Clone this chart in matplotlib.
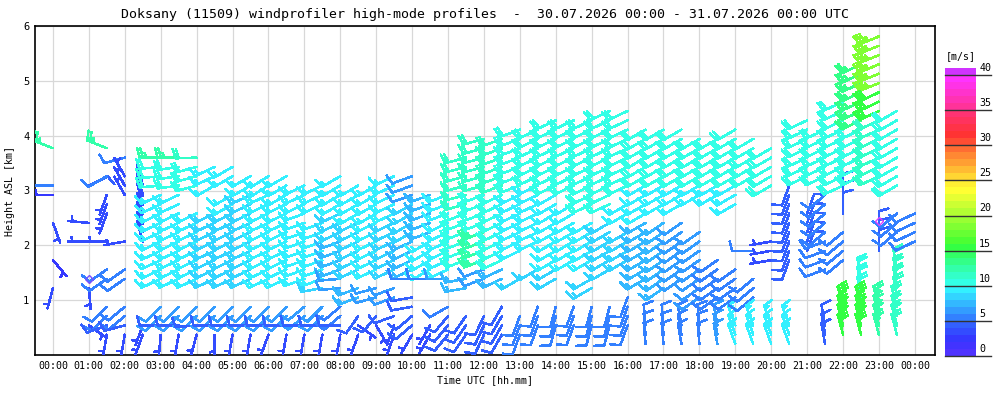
import numpy as np
import matplotlib
matplotlib.use("Agg")
import matplotlib.pyplot as plt
from matplotlib.colors import ListedColormap, BoundaryNorm

# ---------------- CONFIG ----------------
OUT_NAME = "out.png"
MONO = "DejaVu Sans Mono"
TITLE = ("Doksany (11509) windprofiler high-mode profiles  -  "
         "30.07.2026 00:00 - 31.07.2026 00:00 UTC")
# ----------------------------------------

# range gates of the high mode [km]
GATES = [0.20, 0.37, 0.54, 0.71, 0.88, 1.05, 1.22, 1.39, 1.56, 1.73, 1.90,
         2.07, 2.24, 2.41, 2.58, 2.75, 2.92, 3.09, 3.26, 3.43, 3.60, 3.77,
         3.94, 4.11, 4.28, 4.45, 4.62, 4.79, 4.96, 5.13, 5.30, 5.47, 5.64, 5.81]

# profile layers: (h_from, h_to, dir [deg], speed [m/s])
P0000 = [(3.77, 3.77, 292, 12), (3.09, 3.09, 270, 5), (2.92, 2.92, 270, 2),
         (2.41, 2.41, 160, 3), (1.73, 1.73, 140, 2), (1.22, 1.22, 195, 3)]
P0030 = []
P0100 = [(3.09, 3.09, 65, 4), (2.41, 2.41, 275, 3), (2.07, 2.07, 270, 3),
         (1.22, 1.22, 175, 3), (0.54, 0.54, 125, 3)]
P0130 = [(3.77, 3.77, 292, 12), (3.26, 3.26, 240, 5), (2.58, 2.92, 200, 3),
         (2.07, 2.07, 270, 3), (1.39, 1.56, 235, 5), (0.71, 0.88, 225, 5),
         (0.54, 0.54, 250, 4), (0.37, 0.37, 190, 3)]
P0200 = [(3.60, 3.60, 255, 5), (2.92, 3.26, 330, 3), (2.07, 2.07, 260, 3),
         (1.39, 1.56, 235, 5), (0.71, 0.88, 230, 5), (0.54, 0.54, 255, 4),
         (0.37, 0.37, 190, 3)]
P0230 = [(2.07, 3.09, 345, 3), (0.37, 0.54, 200, 3)]
P0300 = [(3.60, 3.60, 270, 12), (3.09, 3.43, 265, 10), (1.39, 2.92, 245, 9),
         (0.71, 0.88, 225, 6), (0.54, 0.54, 270, 4), (0.37, 0.37, 185, 3)]
P0330 = [(3.60, 3.60, 270, 12), (3.09, 3.43, 262, 10), (1.39, 2.92, 245, 9),
         (0.71, 0.88, 225, 6), (0.54, 0.54, 270, 4), (0.37, 0.37, 190, 3)]
P0400 = [(3.60, 3.60, 268, 11), (3.09, 3.43, 255, 10), (1.39, 2.58, 245, 9),
         (0.71, 0.88, 225, 6), (0.54, 0.54, 265, 4), (0.37, 0.37, 195, 3)]
P0430 = [(3.26, 3.43, 245, 9), (3.09, 3.09, 240, 9), (1.39, 2.58, 245, 8),
         (0.71, 0.88, 225, 6), (0.54, 0.54, 270, 4), (0.37, 0.37, 180, 3)]
P0500 = [(3.26, 3.43, 240, 9), (2.75, 2.92, 240, 9), (1.39, 2.58, 245, 8),
         (0.71, 0.88, 225, 6), (0.54, 0.54, 270, 4), (0.37, 0.37, 190, 3)]
P0530 = [(3.09, 3.26, 240, 9), (1.39, 2.92, 245, 8), (0.71, 0.88, 225, 6),
         (0.54, 0.54, 270, 4), (0.37, 0.37, 190, 3)]
P0600 = [(3.09, 3.26, 238, 9), (1.39, 2.92, 245, 9), (0.71, 0.88, 225, 6),
         (0.54, 0.54, 270, 4), (0.37, 0.37, 200, 3)]
P0630 = [(2.92, 3.26, 240, 9), (1.39, 2.75, 245, 9), (0.71, 0.88, 225, 6),
         (0.54, 0.54, 270, 4), (0.37, 0.37, 190, 3)]
P0700 = [(2.75, 3.09, 245, 9), (1.39, 2.58, 250, 9), (0.71, 0.88, 230, 6),
         (0.54, 0.54, 270, 4), (0.37, 0.37, 190, 3)]
P0730 = [(2.75, 3.09, 245, 9), (1.39, 2.41, 250, 9), (1.22, 1.22, 260, 8),
         (0.71, 0.88, 225, 6), (0.54, 0.54, 270, 4), (0.37, 0.37, 190, 3)]
P0800 = [(2.75, 3.26, 240, 9), (2.24, 2.58, 245, 8), (1.56, 2.07, 250, 7),
         (1.22, 1.39, 265, 6), (0.71, 0.88, 230, 5), (0.54, 0.54, 270, 4),
         (0.37, 0.37, 190, 3)]
P0830 = [(2.58, 3.09, 240, 9), (1.56, 2.41, 245, 8), (1.05, 1.22, 250, 7),
         (0.71, 0.71, 215, 4), (0.54, 0.54, 125, 3), (0.37, 0.37, 200, 3)]
P0900 = [(2.58, 3.09, 240, 9), (1.56, 2.41, 245, 9), (1.05, 1.22, 255, 6),
         (0.71, 0.71, 220, 4), (0.54, 0.54, 150, 3)]
P0930 = [(2.58, 3.26, 245, 9), (1.56, 2.41, 245, 8), (1.05, 1.22, 250, 6),
         (0.71, 0.71, 250, 4), (0.37, 0.54, 200, 3)]
P1000 = [(2.92, 3.26, 250, 6), (2.24, 2.75, 240, 8), (1.56, 2.07, 245, 7),
         (1.39, 1.39, 270, 5), (0.88, 1.05, 260, 4), (0.54, 0.71, 230, 4),
         (0.37, 0.37, 210, 3)]
P1030 = [(2.24, 2.92, 250, 7), (1.56, 2.07, 240, 9), (1.39, 1.39, 270, 5),
         (0.37, 0.54, 210, 3)]
P1100 = [(2.58, 2.92, 250, 9), (1.56, 2.41, 245, 9), (1.39, 1.39, 270, 6),
         (0.88, 0.88, 240, 5), (0.37, 0.71, 220, 4)]
P1130 = [(2.75, 3.60, 255, 11), (1.73, 2.58, 250, 10), (1.22, 1.39, 260, 7),
         (0.37, 0.71, 215, 4)]
P1200 = [(3.09, 3.94, 255, 11), (2.41, 2.92, 250, 10), (1.73, 2.24, 250, 12),
         (1.39, 1.56, 250, 6), (0.37, 0.71, 205, 4)]
P1230 = [(3.09, 3.94, 250, 11), (1.73, 2.92, 245, 10), (1.39, 1.56, 245, 7),
         (0.37, 0.88, 210, 4)]
P1300 = [(3.09, 4.11, 250, 10), (1.90, 2.92, 245, 9), (1.39, 1.39, 240, 8),
         (0.37, 0.71, 200, 5)]
P1330 = [(3.26, 4.11, 245, 10), (2.07, 3.09, 245, 9), (1.56, 1.56, 240, 8),
         (0.54, 0.88, 200, 5)]
P1400 = [(3.09, 4.28, 245, 10), (1.73, 2.92, 240, 9), (1.39, 1.56, 240, 8),
         (0.54, 0.88, 195, 5)]
P1430 = [(3.09, 4.28, 245, 10), (1.73, 2.75, 240, 9), (0.54, 0.88, 200, 5)]
P1500 = [(2.75, 4.28, 245, 10), (1.73, 2.41, 240, 9), (1.22, 1.39, 240, 8),
         (0.54, 0.88, 195, 5)]
P1530 = [(2.75, 4.45, 245, 10), (1.56, 2.41, 240, 8), (0.54, 0.88, 195, 5)]
P1600 = [(3.09, 4.45, 245, 10), (2.58, 2.75, 240, 9), (1.73, 2.24, 240, 8),
         (0.54, 1.05, 200, 5)]
P1630 = [(3.26, 4.11, 240, 10), (2.58, 3.09, 240, 9), (1.39, 2.41, 240, 7),
         (0.20, 0.54, 355, 5)]
P1700 = [(3.26, 4.11, 240, 10), (2.75, 3.09, 240, 9), (1.22, 2.41, 235, 7),
         (0.20, 0.54, 355, 5)]
P1730 = [(3.26, 4.11, 240, 10), (2.75, 3.09, 240, 9), (1.39, 2.41, 235, 6),
         (0.20, 0.54, 350, 5)]
P1800 = [(3.26, 3.94, 240, 10), (2.92, 3.09, 240, 9), (1.05, 2.24, 235, 6),
         (0.20, 0.54, 355, 5)]
P1830 = [(3.26, 3.94, 240, 10), (2.92, 3.09, 240, 9), (1.05, 1.73, 235, 5),
         (0.20, 0.54, 350, 6)]
P1900 = [(3.26, 4.11, 240, 10), (2.75, 3.09, 240, 9), (1.05, 1.56, 235, 5),
         (0.20, 0.54, 340, 9)]
P1930 = [(3.26, 3.94, 240, 10), (1.90, 1.90, 270, 5), (1.05, 1.39, 230, 5),
         (0.20, 0.54, 340, 9)]
P2000 = [(3.09, 3.77, 240, 10), (1.73, 2.07, 260, 3), (0.20, 0.54, 340, 9)]
P2030 = [(1.73, 3.09, 200, 4), (0.20, 0.54, 340, 9)]
P2100 = [(3.26, 4.28, 245, 10), (1.90, 2.58, 20, 4)]
P2130 = [(3.26, 4.11, 245, 10), (2.24, 2.92, 230, 5), (1.56, 2.07, 250, 5),
         (0.20, 0.54, 350, 4)]
P2200 = [(3.09, 4.62, 245, 10), (2.58, 3.26, 0, 4), (1.73, 2.24, 230, 5),
         (0.37, 0.88, 345, 15)]
P2230 = [(4.28, 5.30, 245, 13), (3.26, 4.11, 245, 10), (1.05, 1.39, 350, 10),
         (0.37, 0.88, 345, 15)]
P2300 = [(4.96, 5.81, 248, 18), (4.45, 4.79, 245, 15), (3.26, 4.28, 245, 11),
         (1.90, 2.24, 0, 4), (0.37, 0.88, 345, 12)]
P2330 = [(3.09, 4.45, 240, 10), (2.24, 2.58, 230, 5), (1.05, 1.56, 350, 11),
         (0.37, 0.88, 345, 11)]
P2400 = [(2.07, 2.58, 245, 5)]

PROFILE_TIMES = [0.0, 0.5, 1.0, 1.5, 2.0, 2.5, 3.0, 3.5, 4.0, 4.5, 5.0, 5.5,
                 6.0, 6.5, 7.0, 7.5, 8.0, 8.5, 9.0, 9.5, 10.0, 10.5, 11.0,
                 11.5, 12.0, 12.5, 13.0, 13.5, 14.0, 14.5, 15.0, 15.5, 16.0,
                 16.5, 17.0, 17.5, 18.0, 18.5, 19.0, 19.5, 20.0, 20.5, 21.0,
                 21.5, 22.0, 22.5, 23.0, 23.5, 24.0]
PROFILES = [P0000, P0030, P0100, P0130, P0200, P0230, P0300, P0330, P0400,
            P0430, P0500, P0530, P0600, P0630, P0700, P0730, P0800, P0830,
            P0900, P0930, P1000, P1030, P1100, P1130, P1200, P1230, P1300,
            P1330, P1400, P1430, P1500, P1530, P1600, P1630, P1700, P1730,
            P1800, P1830, P1900, P1930, P2000, P2030, P2100, P2130, P2200,
            P2230, P2300, P2330, P2400]

# calm (variable) gates
CALM_T = [1.0, 23.0]
CALM_H = [1.38, 2.45]
CALM_COLORS = ["#7a4dff", "#e040ff"]

# speed colour scale [m/s], one colour per 1 m/s band
CB_LEVELS = list(range(0, 42))
CB_COLORS = ["#4f33ff", "#4233ff", "#3538ff", "#334cff", "#3360ff",
             "#3380ff", "#339cff", "#33b8ff", "#33d4ff", "#33f0ff",
             "#33ffe6", "#33ffc8", "#33ffaa", "#33ff88", "#33ff66",
             "#33ff44", "#4cff33", "#66ff33", "#80ff33", "#99ff33",
             "#b3ff33", "#ccff33", "#e6ff33", "#ffff33", "#fff033",
             "#ffd633", "#ffbb33", "#ff9f33", "#ff8833", "#ff6d33",
             "#ff4d33", "#ff3333", "#ff3348", "#ff335e", "#ff3373",
             "#ff3399", "#ff33b3", "#ff33cc", "#ff33e6", "#ff33ff",
             "#d033ff"]
CB_TICKS = [0, 5, 10, 15, 20, 25, 30, 35, 40]

X_TICKS = list(range(0, 25))
X_LABELS = ["%02d:00" % (h % 24) for h in X_TICKS]
Y_TICKS = [1, 2, 3, 4, 5, 6]


def expand_profiles():
    t, h, d, s = [], [], [], []
    half = 0.085
    for tt, layers in zip(PROFILE_TIMES, PROFILES):
        used = set()
        for lo, hi, dd, ss in layers:
            for g in GATES:
                if lo - half <= g <= hi + half and g not in used:
                    used.add(g)
                    t.append(tt)
                    h.append(g)
                    d.append(dd)
                    s.append(ss)
    return np.array(t), np.array(h), np.array(d, float), np.array(s, float)


def main():
    cmap = ListedColormap(CB_COLORS)
    norm = BoundaryNorm(CB_LEVELS, cmap.N)

    fig = plt.figure(figsize=(10, 4), dpi=100)
    ax = fig.add_axes([0.035, 0.1125, 0.90, 0.8225])

    t, h, d, s = expand_profiles()
    kt = s * 1.94384
    rad = np.deg2rad(d)
    u = -kt * np.sin(rad)
    v = -kt * np.cos(rad)

    # barb staff is about length**2/2 points long
    ax.barbs(t, h, u, v, s, cmap=cmap, norm=norm, length=5.5,
             linewidth=1.1, antialiased=False,
             sizes=dict(spacing=0.15, height=0.45, width=0.25),
             zorder=3)
    for ct, ch, cc in zip(CALM_T, CALM_H, CALM_COLORS):
        ax.plot(ct, ch, marker="D", ms=4, mfc="none", mec=cc, mew=1.0,
                zorder=4)

    ax.set_xlim(-0.5, 24.56)
    ax.set_ylim(0, 6)
    ax.set_xticks(X_TICKS)
    ax.set_xticklabels(X_LABELS, family=MONO, fontsize=7.2)
    ax.set_yticks(Y_TICKS)
    ax.set_yticklabels([str(y) for y in Y_TICKS], family=MONO, fontsize=7.5)
    ax.tick_params(length=0, pad=4)
    ax.grid(True, color="#d8d8d8", linewidth=0.9, zorder=0)
    ax.set_axisbelow(True)
    for sp in ax.spines.values():
        sp.set_linewidth(1.2)

    ax.set_title(TITLE, family=MONO, fontsize=9.5, pad=6)
    ax.set_xlabel("Time UTC [hh.mm]", family=MONO, fontsize=7.2, labelpad=3)
    ax.set_ylabel("Height ASL [km]", family=MONO, fontsize=7.2, labelpad=6)

    # colour bar
    cax = fig.add_axes([0.945, 0.11, 0.031, 0.72])
    bottoms = np.array(CB_LEVELS[:-1])
    cax.bar(0.5, np.ones(len(bottoms)), bottom=bottoms, width=1.0,
            color=CB_COLORS, linewidth=0)
    cax.set_xlim(0, 1)
    cax.set_ylim(0, 41)
    cax.axis("off")
    for tv in CB_TICKS:
        cax.plot([0, 1.48], [tv, tv], color="#333333", lw=1.0,
                 clip_on=False)
        cax.text(1.1, tv + 0.3, str(tv), family=MONO, fontsize=7.2,
                 ha="left", va="bottom")
    cax.text(0.5, 42.0, "[m/s]", family=MONO, fontsize=7.2,
             ha="center", va="bottom")

    fig.savefig(OUT_NAME, dpi=100)
    plt.close(fig)


if __name__ == "__main__":
    main()
